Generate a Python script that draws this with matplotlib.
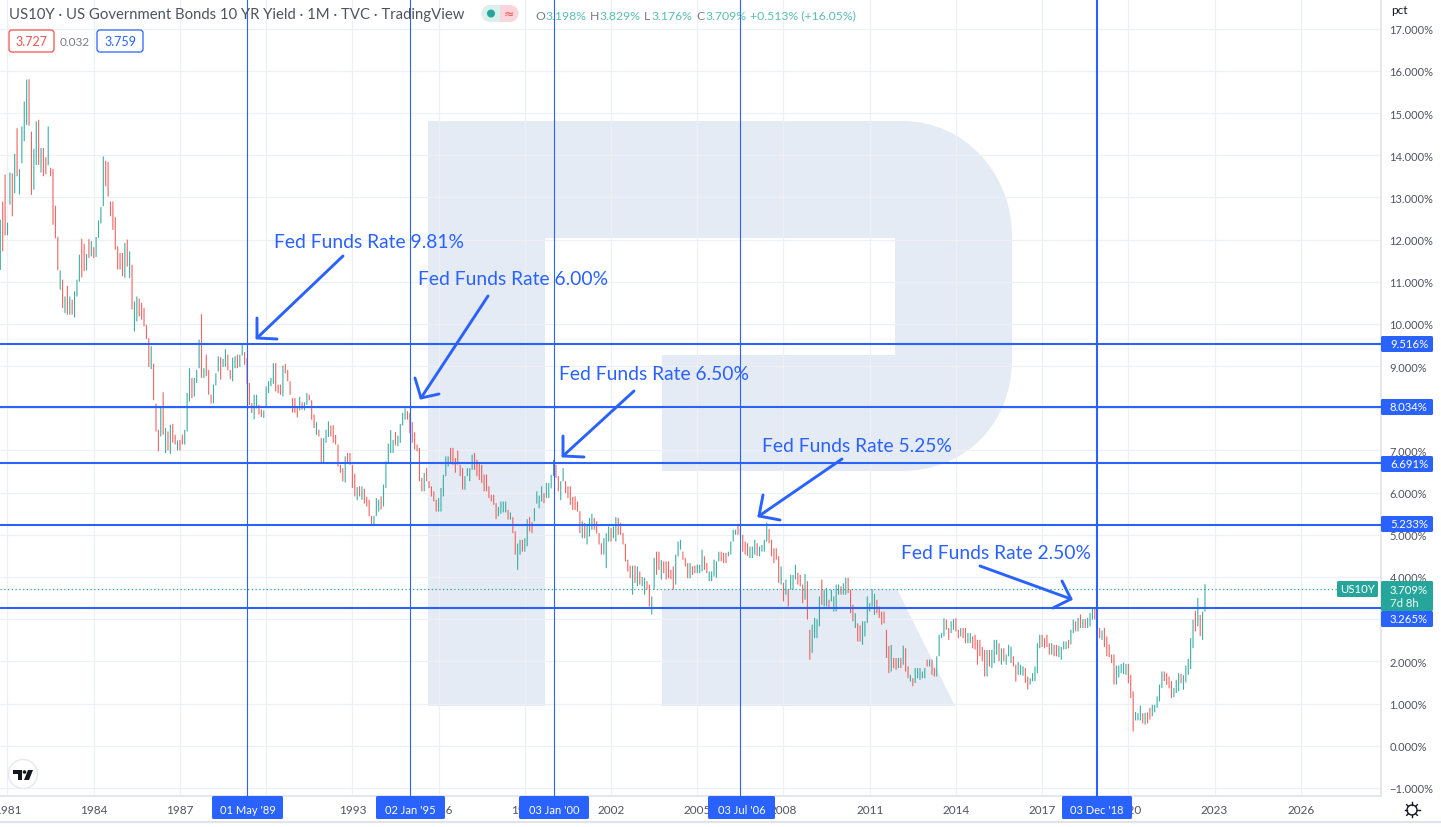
import matplotlib
matplotlib.use('Agg')
from matplotlib import pyplot as plt
from matplotlib.path import Path
from matplotlib.patches import PathPatch, FancyBboxPatch, Circle, Polygon
import numpy as np

plt.rcParams['font.family'] = ['Lato', 'DejaVu Sans']

# monthly bars, Oct 1980 - Sep 2022, one row per year
highs = [
    12.47, 12.9, 13.54,
    12.4, 13.59, 13.57, 14.03, 14.64, 13.67, 14.68, 15.27, 15.79, 15.8, 14.56, 14.15,
    14.8, 14.84, 14.17, 14.17, 13.95, 14.68, 13.7, 13.67, 12.8, 12.06, 11.27, 11.05,
    10.65, 10.9, 10.65, 10.57, 10.77, 11.05, 11.64, 12.02, 11.9, 11.66, 12.01, 11.96,
    11.82, 12.06, 12.45, 12.77, 13.97, 13.87, 13.84, 12.9, 12.9, 12.53, 11.84, 11.68,
    11.68, 11.92, 12.0, 11.72, 11.4, 10.53, 10.65, 10.6, 10.5, 10.38, 9.98, 9.66,
    9.47, 9.06, 8.11, 7.49, 8.04, 8.38, 7.53, 7.45, 7.61, 7.63, 7.37, 7.24,
    7.25, 7.37, 7.49, 8.36, 8.95, 8.72, 8.72, 8.91, 9.63, 10.23, 8.95, 9.27,
    8.91, 8.32, 8.56, 8.83, 9.23, 9.21, 9.17, 9.4, 9.27, 8.91, 9.2, 9.23,
    9.27, 9.27, 9.51, 9.33, 9.19, 8.6, 8.12, 8.32, 8.32, 8.08, 7.97, 7.95,
    8.52, 8.64, 8.72, 9.07, 9.07, 8.56, 8.56, 9.01, 9.05, 8.91, 8.64, 8.24,
    8.24, 8.05, 8.27, 8.14, 8.14, 8.36, 8.32, 8.19, 7.85, 7.67, 7.49, 7.29,
    7.29, 7.49, 7.69, 7.59, 7.6, 7.37, 7.14, 6.66, 6.58, 6.86, 6.94, 6.94,
    6.66, 6.45, 6.13, 6.15, 6.15, 6.09, 5.9, 5.83, 5.45, 5.45, 5.87, 5.83,
    5.91, 6.19, 6.74, 7.16, 7.48, 7.25, 7.44, 7.35, 7.63, 7.89, 8.0, 7.93,
    7.89, 7.67, 7.43, 7.14, 7.06, 6.35, 6.47, 6.58, 6.27, 6.15, 6.03, 5.83,
    5.87, 6.11, 6.42, 6.86, 6.86, 7.06, 7.06, 6.82, 7.0, 6.66, 6.58, 6.39,
    6.58, 6.58, 6.9, 6.94, 6.78, 6.7, 6.66, 6.43, 6.43, 6.15, 5.95, 5.95,
    5.75, 5.66, 5.79, 5.79, 5.79, 5.59, 5.53, 5.42, 5.08, 4.79, 4.88, 4.88,
    4.92, 5.37, 5.42, 5.3, 5.63, 6.03, 5.93, 6.15, 5.99, 6.23, 6.23, 6.42,
    6.78, 6.66, 6.39, 6.27, 6.58, 6.27, 6.15, 6.15, 5.9, 5.91, 5.79, 5.56,
    5.32, 5.28, 5.24, 5.4, 5.5, 5.4, 5.32, 5.04, 4.8, 4.92, 5.04, 5.2,
    5.16, 5.2, 5.42, 5.4, 5.28, 5.04, 4.79, 4.41, 4.27, 4.27, 4.27, 4.25,
    4.13, 4.0, 3.98, 3.9, 3.82, 3.54, 4.45, 4.6, 4.6, 4.4, 4.37, 4.37,
    4.37, 4.17, 4.25, 4.53, 4.84, 4.88, 4.6, 4.45, 4.33, 4.33, 4.25, 4.27,
    4.29, 4.29, 4.65, 4.49, 4.33, 4.13, 4.13, 4.41, 4.37, 4.6, 4.6, 4.57,
    4.57, 4.6, 4.84, 5.12, 5.12, 5.24, 5.15, 5.0, 4.84, 4.8, 4.72, 4.72,
    4.88, 4.8, 4.72, 4.76, 4.88, 5.28, 5.14, 4.88, 4.68, 4.68, 4.49, 4.25,
    3.86, 3.94, 3.7, 4.05, 4.05, 4.29, 4.1, 4.05, 3.82, 4.07, 3.9, 2.75,
    2.87, 3.03, 3.0, 3.54, 3.94, 3.7, 3.74, 3.46, 3.7, 3.54, 3.82, 3.82,
    3.78, 3.85, 3.98, 3.98, 3.7, 3.34, 3.14, 2.9, 2.85, 2.95, 2.95, 3.54,
    3.38, 3.71, 3.6, 3.46, 3.3, 3.18, 3.18, 2.75, 2.36, 2.39, 2.08, 2.08,
    2.08, 2.08, 2.37, 2.31, 1.88, 1.68, 1.6, 1.84, 1.84, 1.84, 1.76, 1.84,
    2.04, 2.04, 2.04, 1.84, 2.12, 2.63, 2.67, 3.02, 2.99, 2.79, 2.95, 3.0,
    3.02, 2.75, 2.79, 2.79, 2.79, 2.67, 2.67, 2.59, 2.63, 2.51, 2.51, 2.34,
    2.27, 2.27, 2.27, 2.27, 2.51, 2.51, 2.43, 2.31, 2.31, 2.16, 2.39, 2.35,
    2.12, 1.92, 1.98, 1.92, 1.88, 1.84, 1.64, 1.6, 1.72, 1.88, 2.43, 2.63,
    2.63, 2.55, 2.63, 2.43, 2.43, 2.39, 2.39, 2.37, 2.34, 2.47, 2.47, 2.51,
    2.75, 2.99, 2.95, 3.03, 3.11, 3.0, 3.0, 3.03, 3.15, 3.24, 3.26, 3.02,
    2.79, 2.73, 2.79, 2.59, 2.4, 2.16, 2.16, 1.9, 1.9, 1.94, 1.97, 1.94,
    1.94, 1.68, 1.29, 0.8, 0.77, 0.95, 0.77, 0.78, 0.79, 0.9, 0.97, 0.97,
    1.17, 1.45, 1.76, 1.76, 1.72, 1.64, 1.53, 1.37, 1.56, 1.72, 1.7, 1.67,
    1.9, 2.06, 2.55, 2.99, 3.2, 3.5, 3.1, 3.18, 3.83,
]
lows = [
    11.28, 11.72, 12.1,
    12.1, 12.83, 12.55, 13.1, 13.5, 13.07, 13.81, 14.33, 14.72, 14.7, 13.06, 13.18,
    13.77, 13.77, 13.59, 13.5, 13.55, 13.76, 13.5, 12.35, 12.03, 11.27, 10.81, 10.38,
    10.26, 10.22, 10.22, 10.22, 10.15, 10.65, 11.0, 11.1, 11.25, 11.27, 11.56, 11.6,
    11.56, 11.59, 12.04, 12.38, 12.79, 13.26, 13.02, 12.55, 12.23, 11.76, 11.29, 11.29,
    11.13, 11.09, 11.36, 11.09, 10.34, 9.82, 10.06, 10.18, 10.1, 9.94, 9.64, 8.98,
    8.93, 8.19, 7.45, 6.98, 7.33, 7.37, 6.94, 7.0, 6.92, 7.18, 7.14, 7.0,
    7.0, 7.14, 7.14, 7.45, 8.16, 8.24, 8.28, 8.6, 8.95, 8.72, 8.72, 8.76,
    8.32, 8.11, 8.12, 8.54, 8.87, 8.68, 8.98, 8.99, 8.9, 8.69, 8.64, 8.95,
    8.95, 8.98, 9.25, 9.03, 8.58, 8.08, 7.89, 7.74, 8.0, 7.85, 7.79, 7.77,
    8.03, 8.36, 8.52, 8.58, 8.4, 8.36, 8.32, 8.28, 8.83, 8.64, 8.32, 7.9,
    7.89, 7.78, 7.95, 7.97, 7.95, 8.08, 8.19, 7.73, 7.53, 7.37, 7.33, 6.7,
    6.69, 7.18, 7.32, 7.33, 7.18, 7.14, 6.62, 6.47, 6.27, 6.24, 6.7, 6.66,
    6.11, 5.91, 5.82, 5.91, 5.83, 5.74, 5.67, 5.44, 5.22, 5.22, 5.45, 5.55,
    5.6, 5.67, 6.11, 6.7, 6.94, 6.94, 7.12, 7.1, 7.18, 7.59, 7.73, 7.73,
    7.41, 7.18, 7.02, 6.98, 6.27, 6.03, 6.03, 6.27, 6.11, 5.91, 5.79, 5.55,
    5.55, 5.55, 5.91, 6.39, 6.62, 6.7, 6.66, 6.47, 6.66, 6.39, 6.07, 6.07,
    6.39, 6.27, 6.54, 6.54, 6.39, 6.3, 6.23, 6.03, 6.03, 5.87, 5.79, 5.71,
    5.37, 5.44, 5.5, 5.53, 5.53, 5.36, 5.36, 5.04, 4.53, 4.17, 4.53, 4.6,
    4.6, 4.73, 5.08, 5.04, 5.32, 5.74, 5.63, 5.79, 5.75, 5.87, 5.87, 6.1,
    6.39, 6.35, 6.03, 5.82, 6.27, 5.99, 5.87, 5.71, 5.59, 5.59, 5.55, 5.04,
    4.92, 4.92, 4.77, 4.96, 5.12, 5.12, 5.03, 4.77, 4.53, 4.53, 4.21, 4.84,
    4.84, 4.92, 4.84, 5.0, 5.0, 4.77, 4.37, 4.13, 3.97, 3.58, 3.86, 3.78,
    3.82, 3.78, 3.58, 3.7, 3.3, 3.11, 3.7, 4.05, 4.17, 3.94, 4.09, 3.94,
    3.97, 3.95, 3.7, 3.82, 4.49, 4.65, 4.41, 4.25, 3.97, 3.97, 4.05, 4.09,
    4.09, 4.09, 4.13, 4.17, 4.09, 3.9, 3.9, 4.01, 3.98, 4.37, 4.37, 4.33,
    4.33, 4.49, 4.53, 4.84, 5.0, 5.0, 5.0, 4.6, 4.53, 4.5, 4.45, 4.45,
    4.53, 4.5, 4.49, 4.6, 4.6, 4.84, 4.8, 4.49, 4.33, 4.41, 3.86, 3.82,
    3.42, 3.58, 3.3, 3.7, 3.7, 3.94, 3.82, 3.78, 3.38, 3.46, 2.99, 2.04,
    2.2, 2.55, 2.55, 2.83, 3.34, 3.3, 3.3, 3.26, 3.42, 3.18, 3.18, 3.58,
    3.58, 3.58, 3.58, 3.62, 3.14, 2.95, 2.79, 2.47, 2.47, 2.39, 2.59, 2.91,
    3.18, 3.3, 3.1, 3.14, 3.03, 2.87, 2.9, 2.08, 1.72, 1.76, 1.84, 1.8,
    1.84, 1.84, 1.92, 1.76, 1.6, 1.52, 1.41, 1.49, 1.6, 1.56, 1.6, 1.6,
    1.88, 1.88, 1.68, 1.64, 1.64, 2.12, 2.55, 2.59, 2.75, 2.51, 2.67, 2.75,
    2.71, 2.55, 2.59, 2.55, 2.43, 2.43, 2.43, 2.31, 2.28, 1.92, 2.12, 2.0,
    1.64, 1.64, 1.88, 1.84, 1.96, 2.16, 2.0, 1.92, 2.0, 1.92, 2.12, 1.96,
    1.88, 1.52, 1.68, 1.68, 1.66, 1.49, 1.33, 1.45, 1.53, 1.53, 1.72, 2.31,
    2.34, 2.31, 2.34, 2.16, 2.16, 2.12, 2.12, 2.1, 2.04, 2.28, 2.29, 2.31,
    2.4, 2.67, 2.71, 2.71, 2.79, 2.79, 2.79, 2.79, 2.83, 2.99, 2.99, 2.55,
    2.55, 2.51, 2.34, 2.12, 2.1, 1.96, 1.45, 1.45, 1.62, 1.72, 1.7, 1.68,
    1.48, 1.13, 0.34, 0.6, 0.6, 0.6, 0.53, 0.5, 0.53, 0.62, 0.7, 0.79,
    0.9, 1.05, 1.37, 1.53, 1.44, 1.36, 1.13, 1.15, 1.25, 1.29, 1.48, 1.33,
    1.5, 1.68, 1.82, 2.31, 2.71, 2.83, 2.6, 2.51, 3.18,
]
# u = close above open, d = close below open
dirs = """
u d d
u u d u d u u u u d d u
u d u d d u d d d d u d
u d u d u u u d d u d u
d u u u u d d d d d d d
d u d u d u u d d d d d
u d d d u d u d u d d u
d d u u u d u u u d u d
d d u u u d u u d d u u
d u u d d d d u u d d u
u u u u d d d u d d d d
d d u d u u d d d u d d
u u u d d d d d d u d d
d d u d u d d d d u u u
d u u u u u d u u u u d
d d d d d d u d d d d d
u u u u u d d d d d d u
u u u d d d d d d d d d
d u u u u d u d d u u d
u u d d u u u u d u u u
u d d u u d d d d d d d
u d u u u d d d d u u u
d u u d d d d d d u d u
d u u d d u u d d u d d
d d d u u u d d d u d d
u u u d d u u u u u d d
d u u u u d d d d d u u
u d u u u u d d d d d u
d u d u u u d d d u d d
u u u u d u u d u u u u
d u u d d d u d d u u u
u u u d d d d d d u d d
u d u d d u d u u u u u
d u d d u u u u d d u u
d d u d d u u d d d d d
d u d u u u d u d u u u
d d u u u d d u u u u u
d d d d u d d u u u u d
u u d u d u d u u u d d
d u d d d d d u u u u u
d d d u u u d u d d u u
u u u d d d d u u u d u
u u u u d u d u u
""".split()

year_ticks = [1981, 1984, 1987, 1990, 1993, 1996, 1999, 2002, 2005, 2008, 2011, 2014, 2017, 2020, 2023, 2026]
pct_ticks = list(range(-1, 18))

level_values = [9.516, 8.034, 6.691, 5.233, 3.265]
level_labels = ['9.516%', '8.034%', '6.691%', '5.233%', '3.265%']
date_months = [100, 168, 228, 306, 455]  # months since Jan 1981
date_labels = ["01 May '89", "02 Jan '95", "03 Jan '00", "03 Jul '06", "03 Dec '18"]
last_close = 3.709

notes = ['Fed Funds Rate 9.81%', 'Fed Funds Rate 6.00%', 'Fed Funds Rate 6.50%',
         'Fed Funds Rate 5.25%', 'Fed Funds Rate 2.50%']

BLUE = '#2962ff'
TEAL = '#26a69a'
RED = '#ef5350'
W, H = 1441, 828

fig = plt.figure(figsize=(14.41, 8.28), dpi=100, facecolor='white')

def pixel_axes(z):
    a = fig.add_axes([0, 0, 1, 1], zorder=z)
    a.set_xlim(0, W)
    a.set_ylim(H, 0)
    a.axis('off')
    a.patch.set_alpha(0)
    return a

# watermark under everything
back = pixel_axes(0)
M, L, C = Path.MOVETO, Path.LINETO, Path.CURVE4
verts = [(428, 122), (902, 122), (965, 122), (1012, 175), (1012, 237), (1012, 360),
         (1012, 425), (965, 472), (902, 472), (662, 472), (662, 356), (895, 356),
         (895, 239), (545, 239), (545, 707), (428, 707), (428, 122)]
codes = [M, L, C, C, C, L, C, C, C, L, L, L, L, L, L, L, L]
back.add_patch(PathPatch(Path(verts, codes), fc='#e4ebf4', ec='none'))
back.add_patch(Polygon([(662, 590), (897, 590), (955, 707), (662, 707)], fc='#e4ebf4', ec='none'))

# chart pane
ax = fig.add_axes([0, (H - 797) / H, 1381 / W, 797 / H], zorder=1)
ax.patch.set_alpha(0)
ax.set_xlim(-7.5 / 2.395, (1381 - 7.5) / 2.395)
ax.set_ylim(-50.3 / 42.18, 746.7 / 42.18)
for s in ['top', 'left']:
    ax.spines[s].set_visible(False)
for s in ['right', 'bottom']:
    ax.spines[s].set_color('#e0e3eb')
    ax.spines[s].set_linewidth(1.2)
ax.yaxis.tick_right()
ax.set_yticks(pct_ticks)
ax.set_yticklabels([('\u2212' if v < 0 else '') + '%.3f%%' % abs(v) for v in pct_ticks])
ax.set_xticks([(y - 1981) * 12 for y in year_ticks])
ax.set_xticklabels([str(y) for y in year_ticks])
ax.tick_params(axis='y', length=0, pad=6, labelsize=8, labelcolor='#50535e')
ax.tick_params(axis='x', length=0, pad=5.5, labelsize=8.5, labelcolor='#50535e')
ax.grid(True, color='#eef0f5', lw=0.9)
ax.set_axisbelow(True)

months = np.arange(len(highs)) - 3
bar_colors = [TEAL if d == 'u' else RED for d in dirs]
bars = ax.vlines(months, lows, highs, colors=bar_colors, lw=0.8, zorder=3, alpha=0.9)
bars.set_snap(False)

ax.axhline(last_close, color=TEAL, lw=0.9, ls=(0, (1, 2)), zorder=2.5, xmax=1337 / 1381)
for v in level_values:
    ax.axhline(v, color=BLUE, lw=1.5, zorder=4)
for i, m in enumerate(date_months):
    ax.axvline(m, color=BLUE, lw=1.5 if i == 4 else 0.8, zorder=4)

# everything that sits on top: tags, notes, legend
top = pixel_axes(2)

def tag(x0, y0, x1, y1, color):
    top.add_patch(FancyBboxPatch((x0 + 1, y0 + 1), x1 - x0 - 2, y1 - y0 - 2,
                                 boxstyle='round,pad=1,rounding_size=1.5', fc=color, ec='none'))

# right scale tags
level_y = [345, 408, 465, 525, 620]
for y, s in zip(level_y, level_labels):
    tag(1381, y - 8, 1433, y + 8, BLUE)
    top.text(1390, y, s, color='white', fontsize=8.2, va='center', ha='left')
tag(1381, 582, 1433, 612, TEAL)
top.text(1390, 591, '3.709%', color='white', fontsize=8.2, va='center')
top.text(1390, 604, '7d 8h', color='white', fontsize=8.2, va='center', alpha=0.9)
tag(1337, 582, 1378, 598, TEAL)
top.text(1357.5, 590, 'US10Y', color='white', fontsize=8.2, va='center', ha='center')
top.text(1391, 11, 'pct', color='#131722', fontsize=8.5, va='center')

# date tags on the time scale
date_boxes = [(212, 283), (376, 445), (519, 589), (708, 775), (1062, 1132)]
for (x0, x1), s in zip(date_boxes, date_labels):
    tag(x0, 797, x1, 820, BLUE)
    top.text((x0 + x1) / 2, 811, s, color='white', fontsize=8, va='center', ha='center')

# hand drawn arrows
arrows = [
    [(343, 257), (257, 339)], [(257, 319), (257, 339), (277, 340)],
    [(488, 297), (421, 399)], [(415, 379), (421, 399), (439, 395)],
    [(634, 392), (563, 457)], [(563, 437), (563, 457), (584, 458)],
    [(842, 460), (759, 517)], [(763, 496), (759, 517), (780, 521)],
    [(980, 567), (1071, 600)], [(1062, 582), (1071, 600), (1053, 609)],
]
for a in arrows:
    xs, ys = zip(*a)
    top.plot(xs, ys, color=BLUE, lw=2.1, solid_capstyle='round', solid_joinstyle='round')
note_pos = [(274, 243), (418, 280), (559, 375), (762, 447), (901, 554)]
for (x, y), s in zip(note_pos, notes):
    top.text(x, y, s, color=BLUE, fontsize=13.85, va='center', ha='left')

# legend row
top.text(9, 15, 'US10Y \u00b7 US Government Bonds 10 YR Yield \u00b7 1M \u00b7 TVC \u00b7 TradingView',
         color='#50535e', fontsize=10.75, va='center')
top.add_patch(Circle((490, 14.5), 8.5, fc='#d9f0ed', ec='none'))
top.add_patch(Polygon([(490, 6), (501, 6), (501, 23), (490, 23)], fc='#d9f0ed', ec='none'))
top.add_patch(Circle((510, 14.5), 8.5, fc='#fcd5dc', ec='none'))
top.add_patch(Polygon([(500, 6), (510, 6), (510, 23), (500, 23)], fc='#fcd5dc', ec='none'))
top.add_patch(Circle((491, 14.5), 4, fc=TEAL, ec='none'))
top.text(509, 14.5, '\u2248', color=RED, fontsize=9, va='center', ha='center', family=['DejaVu Sans'])
ohlc = [(535, 'O', '#787b86'), (545, '3.198%', TEAL), (590, 'H', '#787b86'), (600, '3.829%', TEAL),
        (644, 'L', '#787b86'), (652, '3.176%', TEAL), (696, 'C', '#787b86'), (705, '3.709%', TEAL),
        (750, '+0.513% (+16.05%)', TEAL)]
for x, s, c in ohlc:
    top.text(x, 16, s, color=c, fontsize=8.8, va='center', alpha=0.75 if c == TEAL else 1)

top.add_patch(FancyBboxPatch((9, 31), 45, 22, boxstyle='round,pad=0,rounding_size=3', fc='white', ec=RED, lw=0.9))
top.text(31.5, 42, '3.727', color=RED, fontsize=9, va='center', ha='center')
top.text(75, 42, '0.032', color='#787b86', fontsize=8.5, va='center', ha='center')
top.add_patch(FancyBboxPatch((97, 31), 46, 22, boxstyle='round,pad=0,rounding_size=3', fc='white', ec=BLUE, lw=0.9))
top.text(120, 42, '3.759', color=BLUE, fontsize=9, va='center', ha='center')

# TradingView badge
top.add_patch(Circle((23, 775), 14.5, fc='white', ec='#e6e8ee', lw=1))
top.add_patch(Polygon([(13, 771), (22, 771), (22, 781), (18, 781), (18, 775), (13, 775)], fc='#131722', ec='none'))
top.add_patch(Polygon([(28, 771), (33, 771), (29, 781), (24, 781)], fc='#131722', ec='none'))
top.add_patch(Circle((24.5, 773), 1.8, fc='#131722', ec='none'))

# settings gear on the corner
top.add_patch(Circle((1412, 811), 5, fc='white', ec='#131722', lw=1))
for ang in np.arange(0, 360, 45):
    cx, sx = np.cos(np.radians(ang)), np.sin(np.radians(ang))
    top.plot([1412 + 5 * cx, 1412 + 7.5 * cx], [811 + 5 * sx, 811 + 7.5 * sx], color='#131722', lw=1)

top.plot([0, W], [823.5, 823.5], color='#e0e3eb', lw=1.5)

fig.savefig('out.png', dpi=100)
